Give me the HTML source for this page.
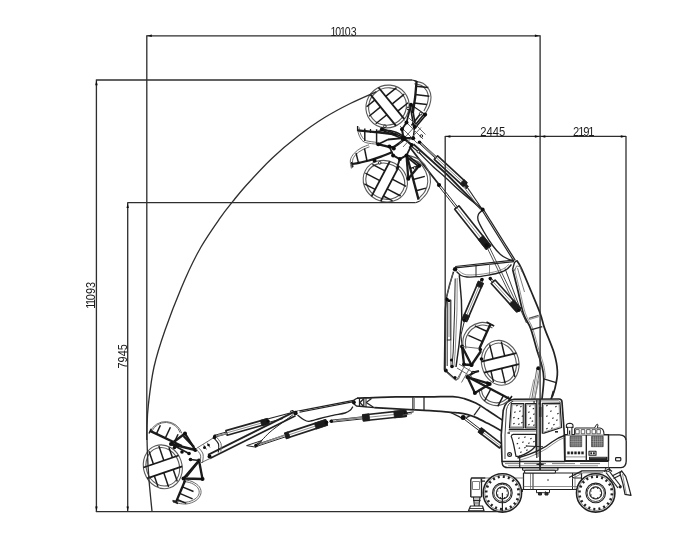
<!DOCTYPE html>
<html><head><meta charset="utf-8"><title>Working range</title>
<style>html,body{margin:0;padding:0;background:#fff}svg{display:block}</style></head>
<body>
<svg width="700" height="537" viewBox="0 0 700 537" font-family="Liberation Sans, sans-serif" stroke-linecap="butt" stroke-linejoin="round">
<defs><filter id="soft" x="0" y="0" width="700" height="537" filterUnits="userSpaceOnUse"><feGaussianBlur stdDeviation="0.38"/></filter></defs>
<rect width="700" height="537" fill="#fff"/>
<g filter="url(#soft)">
<g id="booms">
<path d="M516.8 260.5 C517.5 261.7 518.6 262.5 521 267.6 C523.4 272.7 527.8 283.3 531 291 C534.2 298.7 538 307.4 540.3 313.7 C542.6 320 542.4 322.1 544.7 328.6 C547 335.1 551.9 345.7 554 352.8 C556.1 359.9 557.2 365.6 557.4 371.5 C557.6 377.4 556.1 383.6 555 388.2 C553.9 392.8 551.7 397.2 551 399" fill="none" stroke="#222" stroke-width="1.71" />
<path d="M512.6 269.3 C513.5 272.9 516.2 283.6 518 291 C519.8 298.4 521.4 307.4 523.5 313.7 C525.6 320 528.4 322.4 530.7 328.6 C533 334.8 535.3 344.8 537.2 351 C539.1 357.2 540.8 361.2 541.9 365.9 C543 370.5 543.8 373.4 543.8 378.9 C543.8 384.4 542.3 395.6 542 399" fill="none" stroke="#222" stroke-width="1.71" />
<path d="M514.4 268.7 C515.3 272.3 518 283 519.8 290.4 C521.6 297.8 523.2 306.8 525.3 313.1 C527.4 319.4 530.2 321.8 532.5 328 C534.8 334.2 537.1 344.2 539 350.4 C540.9 356.6 542.6 360.6 543.7 365.3 C544.8 369.9 545.3 376.1 545.6 378.3" fill="none" stroke="#666" stroke-width="0.73" />
<polyline points="505,268.5 520.2,308.7 526.5,323" fill="none" stroke="#333" stroke-width="0.98" />
<polyline points="528.9,318.4 538.6,315.4" fill="none" stroke="#555" stroke-width="1.22" />
<polyline points="529.3,319.6 539,316.6" fill="none" stroke="#666" stroke-width="0.73" />
<polyline points="531.7,329.6 542.3,326.6" fill="none" stroke="#222" stroke-width="1.22" />
<polyline points="543.8,378.9 556.2,382.6" fill="none" stroke="#222" stroke-width="1.22" />
<polyline points="553.5,391 552,397" fill="none" stroke="#222" stroke-width="1.95" />
<polyline points="512.6,269.3 514.5,262.5 516.8,260.5" fill="none" stroke="#222" stroke-width="1.34" />
<polyline points="517.5,268 520,277 524.5,292" fill="none" stroke="#666" stroke-width="0.85" />
<path d="M514.5 271 L516.5 266 L520 266.5 L522 272" fill="none" stroke="#666" stroke-width="0.85" />
<polyline points="536.8,368.8 531.8,398.8" fill="none" stroke="#666" stroke-width="0.98" />
<polyline points="539.8,369.2 534.8,399.2" fill="none" stroke="#666" stroke-width="0.98" />
<polyline points="538.3,369 533.3,399" fill="none" stroke="#999" stroke-width="0.73" />
<polyline points="533.8,379.4 529.5,398.4" fill="none" stroke="#888" stroke-width="0.85" />
<polyline points="538.8,380.6 534.5,399.6" fill="none" stroke="#888" stroke-width="0.85" />
<circle cx="538.3" cy="368.2" r="2" fill="#111"/>
<polyline points="538.5,352 541,366" fill="none" stroke="#555" stroke-width="0.98" />
<polyline points="481.9,210 513.9,261.2" fill="none" stroke="#222" stroke-width="1.22" />
<polyline points="483.3,209.2 515.3,260.4" fill="none" stroke="#222" stroke-width="1.22" />
<path d="M482.2 210.5 C481.6 211.1 479.3 212.4 478.6 214 C477.9 215.6 477.1 217 478 220 C478.9 223 481.5 227.7 484 232 C486.5 236.3 490.2 242.2 493 246 C495.8 249.8 498 252.3 500.5 254.5 C503 256.7 505.8 257.9 508 259 C510.2 260.1 513 260.7 514 261" fill="none" stroke="#222" stroke-width="1.34" />
<polyline points="413.5,144.3 447,174.5 480.5,208.6" fill="none" stroke="#222" stroke-width="1.83" />
<path d="M419 152.5 C421.4 154.9 429 162.8 433.5 167 C438 171.2 441.6 174 446 178 C450.4 182 455.7 187.2 460 191 C464.3 194.8 468.4 198.1 472 201 C475.6 203.9 479.9 207.2 481.5 208.5" fill="none" stroke="#222" stroke-width="1.34" />
<polyline points="409.3,146.5 424,165.5 439,184.5" fill="none" stroke="#222" stroke-width="1.83" />
<polyline points="411,146 420,153" fill="none" stroke="#222" stroke-width="1.22" />
<polygon points="466.8,182.8 437.6,155.8 434.3,159.3 463.6,186.4" fill="none" stroke="#222" stroke-width="1.65"/>
<polyline points="465.2,184.6 436,157.5" fill="none" stroke="#666" stroke-width="0.73" />
<polygon points="467.2,182.5 464,179.5 460,183.8 463.2,186.7" fill="#1a1a1a" stroke="#222" stroke-width="0.73"/>
<polyline points="436.6,156.9 420.1,141.6" fill="none" stroke="#222" stroke-width="0.98" />
<polyline points="435.3,158.2 418.9,143" fill="none" stroke="#222" stroke-width="0.98" />
<polyline points="436,157.5 419.5,142.3" fill="none" stroke="#888" stroke-width="1.43" />
<circle cx="465.2" cy="184.6" r="1.8" fill="#111"/>
<circle cx="419.5" cy="142.3" r="1.8" fill="#111"/>
<polyline points="466,185.5 482,209" fill="none" stroke="#222" stroke-width="1.1" />
<polyline points="463.6,186.5 480.3,209.5" fill="none" stroke="#666" stroke-width="0.85" />
<path d="M464 181.5 L468.5 186.5 L466 189 Z" fill="#222" stroke="#222" stroke-width="0.73" />
<polygon points="454.7,209.2 486.4,249.2 490.6,245.8 458.9,205.8" fill="none" stroke="#222" stroke-width="1.65"/>
<polyline points="456.8,207.5 488.5,247.5" fill="none" stroke="#666" stroke-width="0.73" />
<polygon points="478.1,239.5 486,249.5 491,245.5 483.1,235.5" fill="#1a1a1a" stroke="#222" stroke-width="0.73"/>
<polyline points="438.3,185.6 456.1,208.1" fill="none" stroke="#222" stroke-width="0.98" />
<polyline points="439.7,184.4 457.5,206.9" fill="none" stroke="#222" stroke-width="0.98" />
<circle cx="439" cy="185" r="2.1" fill="#111"/>
<circle cx="486.8" cy="245.2" r="2.3" fill="#111"/>
<polyline points="487.3,248 516.8,309" fill="none" stroke="#222" stroke-width="0.79" />
<polyline points="489.3,247 518.8,308" fill="none" stroke="#222" stroke-width="0.79" />
<circle cx="482.6" cy="209.6" r="2" fill="#111"/>
<polyline points="455.4,267.9 513.9,261.6" fill="none" stroke="#222" stroke-width="1.22" />
<polyline points="455.2,266.5 513.7,260.2" fill="none" stroke="#222" stroke-width="1.22" />
<path d="M456.5 271.5 C457.2 272.2 459.2 274.6 461 275.5 C462.8 276.4 464.2 276.8 467 277 C469.8 277.2 474.3 277 478 276.7 C481.7 276.4 485.3 275.7 489 275 C492.7 274.3 497.1 273.4 500 272.5 C502.9 271.6 504.6 270.8 506.5 269.5 C508.4 268.2 510.7 265.3 511.5 264.5" fill="none" stroke="#222" stroke-width="1.34" />
<path d="M458.5 270.5 C459.2 271 461.4 273 463 273.7 C464.6 274.4 465.5 274.8 468 274.9 C470.5 275 474.5 274.9 478 274.6 C481.5 274.3 485.5 273.7 489 273 C492.5 272.3 496.3 271.5 499 270.6 C501.7 269.7 503.3 268.9 505 267.8 C506.7 266.7 508.3 264.8 509 264.2" fill="none" stroke="#666" stroke-width="0.73" />
<polyline points="476,265 476,276.5" fill="none" stroke="#222" stroke-width="0.98" />
<polyline points="489.5,263.7 489.5,274.8" fill="none" stroke="#666" stroke-width="0.73" />
<circle cx="455.1" cy="269.2" r="2.2" fill="#111"/>
<polyline points="453.5,271.8 449.5,285 446.6,297 445.2,310 444.4,369.5 456.6,380.3" fill="none" stroke="#222" stroke-width="1.46" />
<polyline points="459.3,275.1 461.4,300 461.8,318 459,345 456,367" fill="none" stroke="#222" stroke-width="1.46" />
<polyline points="455.2,278.5 454.6,310 453.2,352 452,366" fill="none" stroke="#222" stroke-width="0.98" />
<polyline points="457.2,278 457,310 455.2,352 453.8,367" fill="none" stroke="#666" stroke-width="0.73" />
<rect x="447.2" y="300" width="3.6" height="40" rx="0" fill="none" stroke="#222" stroke-width="1.1"/>
<polyline points="449,303 449,337" fill="none" stroke="#666" stroke-width="0.73" />
<polyline points="447.2,340 447.2,366" fill="none" stroke="#222" stroke-width="0.98" />
<polyline points="450.8,340 450.8,366" fill="none" stroke="#666" stroke-width="0.85" />
<circle cx="446.8" cy="299.4" r="1.9" fill="#111"/>
<circle cx="449" cy="301" r="1.3" fill="#111"/>
<polyline points="446.5,297 453,273" fill="none" stroke="#666" stroke-width="0.85" />
<circle cx="445.8" cy="370.5" r="1.9" fill="#111"/>
<circle cx="452" cy="366.5" r="1.8" fill="#111"/>
<circle cx="455" cy="377.5" r="1.6" fill="#111"/>
<circle cx="451.5" cy="360" r="1.6" fill="#111"/>
<polyline points="446,372 455,380 458.5,379 462,371" fill="none" stroke="#666" stroke-width="0.98" />
<polygon points="478.4,281.9 462.3,319.6 466.7,321.4 482.8,283.8" fill="none" stroke="#222" stroke-width="1.65"/>
<polyline points="480.6,282.9 464.5,320.5" fill="none" stroke="#666" stroke-width="0.73" />
<polygon points="478.3,280.9 476.2,285.8 481.5,288.1 483.6,283.2" fill="#1a1a1a" stroke="#222" stroke-width="0.73"/>
<polygon points="464.3,313.6 462.4,318.1 467.7,320.4 469.6,315.9" fill="#1a1a1a" stroke="#222" stroke-width="0.73"/>
<polyline points="481.2,279.2 479.8,282.5" fill="none" stroke="#222" stroke-width="0.98" />
<polyline points="482.8,280 481.4,283.2" fill="none" stroke="#222" stroke-width="0.98" />
<circle cx="482" cy="279.6" r="1.8" fill="#111"/>
<circle cx="464.5" cy="320.5" r="1.8" fill="#111"/>
<polygon points="491.2,283.5 516.9,311.9 520.7,308.5 495.1,280" fill="none" stroke="#222" stroke-width="1.65"/>
<polyline points="493.1,281.8 518.8,310.2" fill="none" stroke="#666" stroke-width="0.73" />
<polygon points="509.1,304.1 515.9,311.6 520.5,307.5 513.7,299.9" fill="#1a1a1a" stroke="#222" stroke-width="0.73"/>
<polyline points="489.6,279.2 492.5,282.4" fill="none" stroke="#222" stroke-width="0.98" />
<polyline points="491,278 493.8,281.2" fill="none" stroke="#222" stroke-width="0.98" />
<circle cx="490.3" cy="278.6" r="1.8" fill="#111"/>
<circle cx="518.8" cy="310.2" r="1.8" fill="#111"/>
<polyline points="464.5,320.5 461,335 462,346" fill="none" stroke="#222" stroke-width="0.98" />
<path d="M357 398.2 C360.8 398.1 372 397.5 380 397.3 C388 397.1 396.7 396.9 405 396.8 C413.3 396.7 422 396.9 430 396.9 C438 396.9 447.2 396.3 452.9 396.6 C458.6 396.9 460.5 397.5 464.3 398.6 C468.1 399.7 471.9 401.2 475.7 403.1 C479.5 405 482.3 406.9 487.1 410 C491.9 413.1 501.4 419.5 504.3 421.4" fill="none" stroke="#222" stroke-width="1.71" />
<path d="M374.2 407.6 C379.3 407.9 395.7 408.8 405 409.3 C414.3 409.8 422.4 410.1 430 410.6 C437.6 411.1 445.8 411.9 450.6 412.3 C455.4 412.7 455.8 412.5 458.6 412.9 C461.5 413.3 464.9 413.9 467.7 414.6 C470.5 415.4 472.5 416 475.7 417.4 C478.9 418.8 482.3 420.6 487.1 423.1 C491.9 425.6 501.4 430.8 504.3 432.3" fill="none" stroke="#222" stroke-width="1.71" />
<polyline points="412.9,397.3 412.9,409.6" fill="none" stroke="#222" stroke-width="1.22" />
<polyline points="414.5,397.3 414.5,409.6" fill="none" stroke="#666" stroke-width="0.73" />
<polyline points="424,397 424,410.2" fill="none" stroke="#222" stroke-width="1.22" />
<polyline points="480.3,406.6 474,415.3" fill="none" stroke="#222" stroke-width="1.22" />
<polyline points="357,398.2 354,400 353.4,403.5 356.5,406 374.2,407.6" fill="none" stroke="#222" stroke-width="1.34" />
<polyline points="359.5,398.4 359.5,406.6" fill="none" stroke="#222" stroke-width="1.22" />
<polyline points="363.8,398.2 363.8,407" fill="none" stroke="#222" stroke-width="1.22" />
<polyline points="366,398.2 366,407.2" fill="none" stroke="#222" stroke-width="0.98" />
<polyline points="360,402.5 363.5,399" fill="none" stroke="#222" stroke-width="1.22" />
<polyline points="360,402.5 363.5,406.5" fill="none" stroke="#222" stroke-width="1.22" />
<polyline points="366.2,402.5 371.5,398.5" fill="none" stroke="#222" stroke-width="1.22" />
<polyline points="366.2,402.5 373.5,407.3" fill="none" stroke="#222" stroke-width="1.22" />
<circle cx="353.8" cy="402.3" r="2" fill="#111"/>
<polyline points="450.6,412.5 459.7,416.9 463.1,419" fill="none" stroke="#222" stroke-width="1.22" />
<polyline points="466.3,417.6 470.5,415.4" fill="none" stroke="#222" stroke-width="1.22" />
<polygon points="502.4,444.4 481.3,428.2 478.5,431.9 499.6,448" fill="none" stroke="#222" stroke-width="1.65"/>
<polyline points="501,446.2 479.9,430.1" fill="none" stroke="#666" stroke-width="0.73" />
<polygon points="485.1,430.5 481.6,427.8 478.2,432.3 481.7,434.9" fill="#1a1a1a" stroke="#222" stroke-width="0.73"/>
<polyline points="480.5,429.3 465.6,417.8" fill="none" stroke="#222" stroke-width="0.98" />
<polyline points="479.3,430.8 464.4,419.4" fill="none" stroke="#222" stroke-width="0.98" />
<circle cx="463.2" cy="417.4" r="2.5" fill="#111"/>
<polyline points="353.5,400.3 295.5,411.6" fill="none" stroke="#222" stroke-width="1.22" />
<polyline points="353.7,401.7 295.7,413" fill="none" stroke="#222" stroke-width="1.22" />
<path d="M352.8 406.6 C352.4 407.2 351.8 408.9 350.5 410 C349.2 411.1 347.9 412.1 345 413 C342.1 413.9 337.2 414.5 333 415.4 C328.8 416.3 324 417.5 320 418.5 C316 419.5 311.8 421.1 309 421.3 C306.2 421.5 305.4 420.6 303.5 419.5 C301.6 418.4 298.5 415.8 297.5 415" fill="none" stroke="#222" stroke-width="1.34" />
<circle cx="295.5" cy="413" r="2.3" fill="#111"/>
<circle cx="298.5" cy="412" r="1.2" fill="#fff"/>
<polyline points="295.5,413 292.5,410.5 290,411.5" fill="none" stroke="#222" stroke-width="1.1" />
<polygon points="405.7,410.4 362.7,415 363.4,420.7 406.3,416.2" fill="none" stroke="#222" stroke-width="1.65"/>
<polyline points="406,413.3 363,417.8" fill="none" stroke="#666" stroke-width="0.73" />
<polygon points="405.6,409.9 393.7,411.2 394.4,417.9 406.4,416.7" fill="#1a1a1a" stroke="#222" stroke-width="0.73"/>
<polygon points="369,413.8 362.7,414.5 363.4,421.2 369.8,420.6" fill="#1a1a1a" stroke="#222" stroke-width="0.73"/>
<polyline points="362.9,416.8 331.2,420.2" fill="none" stroke="#222" stroke-width="0.98" />
<polyline points="363.2,418.8 331.4,422.2" fill="none" stroke="#222" stroke-width="0.98" />
<circle cx="406" cy="413.3" r="1.8" fill="#111"/>
<circle cx="331.3" cy="421.2" r="1.8" fill="#111"/>
<polyline points="405,413.4 413.7,411.7" fill="none" stroke="#222" stroke-width="1.1" />
<polyline points="402.6,415.2 412,413.6" fill="none" stroke="#666" stroke-width="0.85" />
<line x1="336" y1="420.6" x2="362" y2="417.4" stroke="#888" stroke-width="1.6"/>
<path d="M256 444.7 C257 443.9 259.7 442.1 262 440 C264.3 437.9 266.6 434.9 270 432 C273.4 429.1 278.8 425.3 282.6 422.4 C286.4 419.5 291.3 416 293 414.7" fill="none" stroke="#222" stroke-width="0.98" />
<polyline points="209.8,458.5 295.5,415.7" fill="none" stroke="#222" stroke-width="1.77" />
<polyline points="208,454.9 293.7,412.1" fill="none" stroke="#222" stroke-width="1.77" />
<circle cx="209.5" cy="456.5" r="2" fill="#111"/>
<polygon points="267.3,418.9 225.9,430.6 227.2,435.2 268.7,423.5" fill="none" stroke="#222" stroke-width="1.65"/>
<polyline points="268,421.2 226.6,432.9" fill="none" stroke="#666" stroke-width="0.73" />
<polygon points="267.2,418.4 260.3,420.4 261.9,425.9 268.8,424" fill="#1a1a1a" stroke="#222" stroke-width="0.73"/>
<polyline points="226.3,432 214.7,435.3" fill="none" stroke="#222" stroke-width="0.98" />
<polyline points="226.8,433.8 215.1,437.1" fill="none" stroke="#222" stroke-width="0.98" />
<circle cx="268" cy="421.2" r="1.8" fill="#111"/>
<circle cx="214.9" cy="436.2" r="1.8" fill="#111"/>
<line x1="216" y1="436" x2="227" y2="433.4" stroke="#888" stroke-width="1.5"/>
<polyline points="267.5,419 293,412.2" fill="none" stroke="#222" stroke-width="1.1" />
<polyline points="269,422.3 283,418.5" fill="none" stroke="#222" stroke-width="0.98" />
<polygon points="325.7,419.9 284.8,433.4 286.4,438.3 327.3,424.9" fill="none" stroke="#222" stroke-width="1.65"/>
<polyline points="326.5,422.4 285.6,435.9" fill="none" stroke="#666" stroke-width="0.73" />
<polygon points="325.5,419.5 314.3,423.2 316.2,429.1 327.5,425.3" fill="#1a1a1a" stroke="#222" stroke-width="0.73"/>
<polygon points="288.2,431.8 284.6,432.9 286.6,438.8 290.1,437.6" fill="#1a1a1a" stroke="#222" stroke-width="0.73"/>
<polyline points="285.3,435 255.7,444.7" fill="none" stroke="#222" stroke-width="0.98" />
<polyline points="285.9,436.7 256.3,446.5" fill="none" stroke="#222" stroke-width="0.98" />
<circle cx="326.5" cy="422.4" r="1.8" fill="#111"/>
<circle cx="256" cy="445.6" r="1.8" fill="#111"/>
<line x1="259" y1="444.6" x2="285" y2="435" stroke="#888" stroke-width="1.6"/>
<polygon points="246.6,445.6 256,447.2 262,440.5" fill="none" stroke="#222" stroke-width="0.98"/>
</g>
<g id="under">
<rect x="523.5" y="473" width="58" height="16.5" rx="0" fill="#fff" stroke="#222" stroke-width="1.22"/>
<polyline points="533,473 533,489.5" fill="none" stroke="#222" stroke-width="0.98" />
<polyline points="530.5,473 530.5,489.5" fill="none" stroke="#666" stroke-width="0.73" />
<polyline points="572.5,473 572.5,489.5" fill="none" stroke="#222" stroke-width="0.98" />
<polyline points="575,473 575,489.5" fill="none" stroke="#666" stroke-width="0.73" />
<polyline points="523.5,486.5 581.5,486.5" fill="none" stroke="#666" stroke-width="0.73" />
<circle cx="548" cy="480" r="0.8" fill="#222"/>
<rect x="536.5" y="489.5" width="13" height="3.2" rx="0" fill="#fff" stroke="#222" stroke-width="0.98"/>
<rect x="538.5" y="492.7" width="3" height="2.3" rx="0" fill="#333" stroke="#222" stroke-width="0.98"/>
<rect x="545" y="492.7" width="3" height="2.3" rx="0" fill="#333" stroke="#222" stroke-width="0.98"/>
<circle cx="545.5" cy="492" r="0.7" fill="#222"/>
<rect x="522.5" y="467.6" width="35.5" height="2.6" rx="1" fill="#fff" stroke="#222" stroke-width="1.1"/>
<rect x="524.5" y="470.2" width="31" height="2.8" rx="1" fill="#fff" stroke="#222" stroke-width="1.1"/>
<polyline points="485.5,478 471.5,478 470.8,480 470.8,497" fill="none" stroke="#222" stroke-width="1.34" />
<polyline points="485,481.2 481.5,481.2 481.5,497" fill="none" stroke="#222" stroke-width="1.22" />
<polyline points="470.8,497 481.5,497" fill="none" stroke="#222" stroke-width="1.22" />
<rect x="472.5" y="481.5" width="7" height="8" rx="0" fill="none" stroke="#666" stroke-width="0.85"/>
<rect x="480.6" y="478.5" width="1.6" height="4" fill="#222"/>
<polyline points="473.5,497 474.5,506" fill="none" stroke="#222" stroke-width="1.22" />
<polyline points="480,497 479,506" fill="none" stroke="#222" stroke-width="1.22" />
<polyline points="476,497 476,506" fill="none" stroke="#666" stroke-width="0.73" />
<polyline points="478,497 478,506" fill="none" stroke="#666" stroke-width="0.73" />
<polyline points="473,500.5 480.5,500.5" fill="none" stroke="#222" stroke-width="0.98" />
<polyline points="473.5,503 480,503" fill="none" stroke="#666" stroke-width="0.85" />
<polygon points="470.5,506 482.5,506 484,510.8 468.5,510.8" fill="#fff" stroke="#222" stroke-width="1.22"/>
<polyline points="470,508.5 483,508.5" fill="none" stroke="#222" stroke-width="0.85" />
<polyline points="485.5,478 523.5,478" fill="none" stroke="#666" stroke-width="0.85" />
<polyline points="520.8,489.5 523.5,489.5" fill="none" stroke="#222" stroke-width="1.1" />
<rect x="520.6" y="489" width="2.4" height="3" fill="#333"/>
<polyline points="581.5,478 574,478 572.5,476.5" fill="none" stroke="#222" stroke-width="0.98" />
<polyline points="569,477.5 582,470.8 605.5,470.8" fill="none" stroke="#222" stroke-width="1.34" />
<polyline points="572,478.8 583,472.8 603,472.8" fill="none" stroke="#666" stroke-width="0.85" />
<polyline points="581.5,489.5 576,489.5" fill="none" stroke="#222" stroke-width="0.98" />
<polyline points="604,471.5 609,469 612,471.5" fill="none" stroke="#222" stroke-width="1.22" />
<circle cx="607.5" cy="469.5" r="2.2" fill="none" stroke="#222" stroke-width="0.98"/>
<polyline points="606,472.5 618,488" fill="none" stroke="#222" stroke-width="1.22" />
<polyline points="609.5,471.5 621,486.5" fill="none" stroke="#222" stroke-width="1.22" />
<polyline points="612,476 620.5,471.8" fill="none" stroke="#222" stroke-width="1.22" />
<polyline points="613.5,478.5 621,474.8" fill="none" stroke="#222" stroke-width="1.22" />
<circle cx="620.2" cy="486.8" r="1.6" fill="#222"/>
<circle cx="620.8" cy="472.5" r="1.2" fill="#222"/>
<polygon points="620,473.5 621.6,470.8 625.7,476.4 627.9,483.6 631,495.3 625,494.3 622.9,483.6" fill="#fff" stroke="#222" stroke-width="1.22"/>
<polyline points="622.5,474 626.3,494" fill="none" stroke="#666" stroke-width="0.73" />
<circle cx="502.4" cy="492.9" r="19.2" fill="#fff" stroke="#222" stroke-width="1.59"/>
<circle cx="502.4" cy="492.9" r="17.6" fill="none" stroke="#666" stroke-width="0.73"/>
<rect x="517.3" y="493.3" width="2.6" height="2.0" fill="#222" transform="rotate(5 518.6 494.3)"/>
<rect x="516.1" y="498.3" width="2.6" height="2.0" fill="#222" transform="rotate(23 517.4 499.3)"/>
<rect x="513.4" y="502.6" width="2.6" height="2.0" fill="#222" transform="rotate(41 514.7 503.6)"/>
<rect x="509.5" y="505.9" width="2.6" height="2.0" fill="#222" transform="rotate(59 510.8 506.9)"/>
<rect x="504.8" y="507.8" width="2.6" height="2.0" fill="#222" transform="rotate(77 506.1 508.8)"/>
<rect x="499.7" y="508.1" width="2.6" height="2.0" fill="#222" transform="rotate(95 501 509.1)"/>
<rect x="494.7" y="506.9" width="2.6" height="2.0" fill="#222" transform="rotate(113 496 507.9)"/>
<rect x="490.4" y="504.2" width="2.6" height="2.0" fill="#222" transform="rotate(131 491.7 505.2)"/>
<rect x="487.1" y="500.3" width="2.6" height="2.0" fill="#222" transform="rotate(149 488.4 501.3)"/>
<rect x="485.2" y="495.6" width="2.6" height="2.0" fill="#222" transform="rotate(167 486.5 496.6)"/>
<rect x="484.9" y="490.5" width="2.6" height="2.0" fill="#222" transform="rotate(185 486.2 491.5)"/>
<rect x="486.1" y="485.5" width="2.6" height="2.0" fill="#222" transform="rotate(203 487.4 486.5)"/>
<rect x="488.8" y="481.2" width="2.6" height="2.0" fill="#222" transform="rotate(221 490.1 482.2)"/>
<rect x="492.7" y="477.9" width="2.6" height="2.0" fill="#222" transform="rotate(239 494 478.9)"/>
<rect x="497.4" y="476" width="2.6" height="2.0" fill="#222" transform="rotate(257 498.7 477)"/>
<rect x="502.5" y="475.7" width="2.6" height="2.0" fill="#222" transform="rotate(275 503.8 476.7)"/>
<rect x="507.5" y="476.9" width="2.6" height="2.0" fill="#222" transform="rotate(293 508.8 477.9)"/>
<rect x="511.8" y="479.6" width="2.6" height="2.0" fill="#222" transform="rotate(311 513.1 480.6)"/>
<rect x="515.1" y="483.5" width="2.6" height="2.0" fill="#222" transform="rotate(329 516.4 484.5)"/>
<rect x="517" y="488.2" width="2.6" height="2.0" fill="#222" transform="rotate(347 518.3 489.2)"/>
<circle cx="502.4" cy="492.9" r="9.8" fill="none" stroke="#222" stroke-width="1.1"/>
<circle cx="502.4" cy="492.9" r="8.6" fill="none" stroke="#222" stroke-width="0.85"/>
<circle cx="502.4" cy="492.9" r="6" fill="none" stroke="#222" stroke-width="1.1"/>
<circle cx="507" cy="494.8" r="0.6" fill="#222"/>
<circle cx="504.4" cy="497.5" r="0.6" fill="#222"/>
<circle cx="500.5" cy="497.5" r="0.6" fill="#222"/>
<circle cx="497.8" cy="494.9" r="0.6" fill="#222"/>
<circle cx="497.8" cy="491" r="0.6" fill="#222"/>
<circle cx="500.4" cy="488.3" r="0.6" fill="#222"/>
<circle cx="504.3" cy="488.3" r="0.6" fill="#222"/>
<circle cx="507" cy="490.9" r="0.6" fill="#222"/>
<circle cx="595.7" cy="492.9" r="19.2" fill="#fff" stroke="#222" stroke-width="1.59"/>
<circle cx="595.7" cy="492.9" r="17.6" fill="none" stroke="#666" stroke-width="0.73"/>
<rect x="610.6" y="493.3" width="2.6" height="2.0" fill="#222" transform="rotate(5 611.9 494.3)"/>
<rect x="609.4" y="498.3" width="2.6" height="2.0" fill="#222" transform="rotate(23 610.7 499.3)"/>
<rect x="606.7" y="502.6" width="2.6" height="2.0" fill="#222" transform="rotate(41 608 503.6)"/>
<rect x="602.8" y="505.9" width="2.6" height="2.0" fill="#222" transform="rotate(59 604.1 506.9)"/>
<rect x="598.1" y="507.8" width="2.6" height="2.0" fill="#222" transform="rotate(77 599.4 508.8)"/>
<rect x="593" y="508.1" width="2.6" height="2.0" fill="#222" transform="rotate(95 594.3 509.1)"/>
<rect x="588" y="506.9" width="2.6" height="2.0" fill="#222" transform="rotate(113 589.3 507.9)"/>
<rect x="583.7" y="504.2" width="2.6" height="2.0" fill="#222" transform="rotate(131 585 505.2)"/>
<rect x="580.4" y="500.3" width="2.6" height="2.0" fill="#222" transform="rotate(149 581.7 501.3)"/>
<rect x="578.5" y="495.6" width="2.6" height="2.0" fill="#222" transform="rotate(167 579.8 496.6)"/>
<rect x="578.2" y="490.5" width="2.6" height="2.0" fill="#222" transform="rotate(185 579.5 491.5)"/>
<rect x="579.4" y="485.5" width="2.6" height="2.0" fill="#222" transform="rotate(203 580.7 486.5)"/>
<rect x="582.1" y="481.2" width="2.6" height="2.0" fill="#222" transform="rotate(221 583.4 482.2)"/>
<rect x="586" y="477.9" width="2.6" height="2.0" fill="#222" transform="rotate(239 587.3 478.9)"/>
<rect x="590.7" y="476" width="2.6" height="2.0" fill="#222" transform="rotate(257 592 477)"/>
<rect x="595.8" y="475.7" width="2.6" height="2.0" fill="#222" transform="rotate(275 597.1 476.7)"/>
<rect x="600.8" y="476.9" width="2.6" height="2.0" fill="#222" transform="rotate(293 602.1 477.9)"/>
<rect x="605.1" y="479.6" width="2.6" height="2.0" fill="#222" transform="rotate(311 606.4 480.6)"/>
<rect x="608.4" y="483.5" width="2.6" height="2.0" fill="#222" transform="rotate(329 609.7 484.5)"/>
<rect x="610.3" y="488.2" width="2.6" height="2.0" fill="#222" transform="rotate(347 611.6 489.2)"/>
<circle cx="595.7" cy="492.9" r="9.8" fill="none" stroke="#222" stroke-width="1.1"/>
<circle cx="595.7" cy="492.9" r="8.6" fill="none" stroke="#222" stroke-width="0.85"/>
<circle cx="595.7" cy="492.9" r="6" fill="none" stroke="#222" stroke-width="1.1"/>
<circle cx="600.3" cy="494.8" r="0.6" fill="#222"/>
<circle cx="597.7" cy="497.5" r="0.6" fill="#222"/>
<circle cx="593.8" cy="497.5" r="0.6" fill="#222"/>
<circle cx="591.1" cy="494.9" r="0.6" fill="#222"/>
<circle cx="591.1" cy="491" r="0.6" fill="#222"/>
<circle cx="593.7" cy="488.3" r="0.6" fill="#222"/>
<circle cx="597.6" cy="488.3" r="0.6" fill="#222"/>
<circle cx="600.3" cy="490.9" r="0.6" fill="#222"/>
<polyline points="502.4,492.9 502.4,511.5" fill="none" stroke="#222" stroke-width="1.22" />
</g>
<g id="upper">
<path d="M502 461.5 L502.3 464 Q503 467.6 508 467.6 L621 467.6 Q626.2 467.2 626.2 461 L626.2 441 Q626 435 619.5 434.8 L565 434.8" fill="#fff" stroke="#222" stroke-width="1.34" />
<polyline points="502,461.5 608.5,461.5" fill="none" stroke="#222" stroke-width="1.22" />
<polyline points="505,463.6 520,463.6" fill="none" stroke="#666" stroke-width="0.85" />
<polyline points="524,463.6 546,463.6" fill="none" stroke="#666" stroke-width="0.85" />
<polyline points="552,463.6 575,463.6" fill="none" stroke="#666" stroke-width="0.85" />
<polyline points="580,463.6 600,463.6" fill="none" stroke="#666" stroke-width="0.85" />
<polyline points="508,465.8 598,465.8" fill="none" stroke="#666" stroke-width="0.73" />
<polyline points="608.5,461.5 608.5,467.6" fill="none" stroke="#666" stroke-width="0.73" />
<rect x="564.8" y="434.8" width="43.7" height="26" rx="0" fill="#fff" stroke="#222" stroke-width="1.46"/>
<polyline points="586.3,434.8 586.3,460.8" fill="none" stroke="#222" stroke-width="1.34" />
<rect x="570" y="436.3" width="11.7" height="10.4" rx="0" fill="#4a4a4a" stroke="#333" stroke-width="0.61"/>
<polyline points="572,436.3 572,446.7" fill="none" stroke="#ccc" stroke-width="0.43" />
<polyline points="573.9,436.3 573.9,446.7" fill="none" stroke="#ccc" stroke-width="0.43" />
<polyline points="575.9,436.3 575.9,446.7" fill="none" stroke="#ccc" stroke-width="0.43" />
<polyline points="577.8,436.3 577.8,446.7" fill="none" stroke="#ccc" stroke-width="0.43" />
<polyline points="579.8,436.3 579.8,446.7" fill="none" stroke="#ccc" stroke-width="0.43" />
<polyline points="570,438 581.7,438" fill="none" stroke="#ccc" stroke-width="0.43" />
<polyline points="570,439.8 581.7,439.8" fill="none" stroke="#ccc" stroke-width="0.43" />
<polyline points="570,441.5 581.7,441.5" fill="none" stroke="#ccc" stroke-width="0.43" />
<polyline points="570,443.2 581.7,443.2" fill="none" stroke="#ccc" stroke-width="0.43" />
<polyline points="570,445 581.7,445" fill="none" stroke="#ccc" stroke-width="0.43" />
<rect x="591.5" y="436.3" width="11.7" height="10.4" rx="0" fill="#4a4a4a" stroke="#333" stroke-width="0.61"/>
<polyline points="593.5,436.3 593.5,446.7" fill="none" stroke="#ccc" stroke-width="0.43" />
<polyline points="595.4,436.3 595.4,446.7" fill="none" stroke="#ccc" stroke-width="0.43" />
<polyline points="597.4,436.3 597.4,446.7" fill="none" stroke="#ccc" stroke-width="0.43" />
<polyline points="599.3,436.3 599.3,446.7" fill="none" stroke="#ccc" stroke-width="0.43" />
<polyline points="601.2,436.3 601.2,446.7" fill="none" stroke="#ccc" stroke-width="0.43" />
<polyline points="591.5,438 603.2,438" fill="none" stroke="#ccc" stroke-width="0.43" />
<polyline points="591.5,439.8 603.2,439.8" fill="none" stroke="#ccc" stroke-width="0.43" />
<polyline points="591.5,441.5 603.2,441.5" fill="none" stroke="#ccc" stroke-width="0.43" />
<polyline points="591.5,443.2 603.2,443.2" fill="none" stroke="#ccc" stroke-width="0.43" />
<polyline points="591.5,445 603.2,445" fill="none" stroke="#ccc" stroke-width="0.43" />
<rect x="567.3" y="451.5" width="2.4" height="2.8" fill="#222"/>
<rect x="570.8" y="451.5" width="2.4" height="2.8" fill="#222"/>
<rect x="574.3" y="451.5" width="2.4" height="2.8" fill="#222"/>
<rect x="577.8" y="451.5" width="2.4" height="2.8" fill="#222"/>
<rect x="581.3" y="451.5" width="2.4" height="2.8" fill="#222"/>
<rect x="589" y="451.3" width="7" height="4" rx="0" fill="#fff" stroke="#222" stroke-width="1.1"/>
<rect x="590.3" y="452.3" width="1.8" height="2" fill="#222"/><rect x="593" y="452.3" width="1.8" height="2" fill="#222"/>
<rect x="589" y="456.8" width="18.5" height="4" fill="#222"/>
<polyline points="590,457.8 606,457.8" fill="none" stroke="#aaa" stroke-width="0.49" />
<polyline points="565,456.9 586,456.9" fill="none" stroke="#666" stroke-width="0.73" />
<polyline points="556.5,459.5 564.5,451" fill="none" stroke="#666" stroke-width="0.85" />
<polyline points="558.5,460.5 564.8,453.8" fill="none" stroke="#666" stroke-width="0.85" />
<polyline points="555,461 564.5,448.5" fill="none" stroke="#666" stroke-width="0.85" />
<rect x="615.6" y="457.6" width="5.2" height="3.3" rx="0.8" fill="#fff" stroke="#222" stroke-width="1.22"/>
<path d="M574.6 434.8 L574.6 429.5 Q574.6 428 576 428 L600 428 Q604 428.5 604 434.8" fill="#fff" stroke="#222" stroke-width="1.1" />
<rect x="575.6" y="429.6" width="3.6" height="4.2" rx="0" fill="#fff" stroke="#444" stroke-width="0.85"/>
<rect x="581.2" y="429.6" width="3.6" height="4.2" rx="0" fill="#fff" stroke="#444" stroke-width="0.85"/>
<rect x="586.6" y="429.6" width="3.6" height="4.2" rx="0" fill="#fff" stroke="#444" stroke-width="0.85"/>
<rect x="592" y="429.6" width="3.6" height="4.2" rx="0" fill="#fff" stroke="#444" stroke-width="0.85"/>
<rect x="596.8" y="429.6" width="3.6" height="4.2" rx="0" fill="#fff" stroke="#444" stroke-width="0.85"/>
<path d="M594.5 428 L596.5 424.6 Q597.5 423.6 598 425 L597.3 428" fill="#fff" stroke="#222" stroke-width="0.98" />
<path d="M567.6 434.8 L567.6 427.4 L566.4 427.4 L566.4 425.2 Q566.6 423.4 569.8 423.2 Q572.8 423.4 573 425.2 L573 427.4 L571.9 427.4 L571.9 434.8" fill="#fff" stroke="#222" stroke-width="1.1" />
<polyline points="567,427.4 572.5,427.4" fill="none" stroke="#222" stroke-width="0.85" />
<rect x="569" y="430.5" width="1.2" height="4" fill="#222"/>
<path d="M514 399.3 L559 399 Q561.8 399 562 402 L564.2 432 L564.8 461.5 L502 461.5 L501.2 435 L503.2 410.5 Q505.5 400 514 399.3 Z" fill="#fff" stroke="#222" stroke-width="1.65" />
<path d="M511 403.5 Q511.5 401 514 401 L558.5 400.8 Q560.2 400.8 560.4 403" fill="none" stroke="#666" stroke-width="0.85" />
<path d="M513 401.2 Q508 402.5 506.4 410 L505 435 L505 459" fill="none" stroke="#444" stroke-width="0.98" />
<polygon points="511.3,403.6 523.8,403.6 523.8,428 509.5,428" fill="#fff" stroke="#222" stroke-width="1.22"/>
<polygon points="512.3,404.8 522.8,404.8 522.8,426.8 510.7,426.8" fill="none" stroke="#666" stroke-width="0.61"/>
<rect x="525.6" y="403.6" width="10.4" height="24.4" rx="0" fill="#fff" stroke="#222" stroke-width="1.22"/>
<rect x="526.6" y="404.8" width="8.4" height="22" rx="0" fill="none" stroke="#666" stroke-width="0.61"/>
<polygon points="542.3,403.4 560,403.2 561.6,427.5 544,433.2 542.3,433.2" fill="#fff" stroke="#222" stroke-width="1.22"/>
<polygon points="543.5,404.6 559,404.4 560.3,426.7 544.5,431.8 543.5,431.8" fill="none" stroke="#666" stroke-width="0.61"/>
<polyline points="508.8,429.6 536.4,429.6" fill="none" stroke="#222" stroke-width="1.22" />
<polyline points="508.5,431.2 536.4,431.2" fill="none" stroke="#666" stroke-width="0.73" />
<path d="M513.2 434.3 L535.8 434.3 L535.8 446 Q530 453 519 456.3 L516 456.3 Q514.8 450 513.5 444 Q512 438 511.2 436.5 Q511.5 434.3 513.2 434.3 Z" fill="#fff" stroke="#222" stroke-width="1.22" />
<polyline points="536.8,400 536.8,458" fill="none" stroke="#222" stroke-width="1.22" />
<polyline points="538.3,400 538.3,457" fill="none" stroke="#666" stroke-width="0.73" />
<path d="M517.5 458 Q540 452 552 442 Q558 437.5 564.5 435.5" fill="none" stroke="#222" stroke-width="1.34" />
<path d="M519 460.5 Q541 454 553 444 Q559 439.5 564.5 437.5" fill="none" stroke="#666" stroke-width="0.73" />
<circle cx="509.6" cy="454.5" r="1.9" fill="#fff" stroke="#222" stroke-width="1.22"/>
<circle cx="509.6" cy="454.5" r="0.8" fill="#333"/>
<polyline points="526.5,446 543,446.8" fill="none" stroke="#222" stroke-width="1.1" />
<circle cx="526.5" cy="446" r="0.8" fill="#222"/>
<rect x="555" y="431" width="3" height="1.6" fill="#222"/>
<rect x="507.5" y="432.3" width="2.5" height="1.4" fill="#222"/>
<rect x="516" y="405.5" width="1.5" height="1.1" fill="#222" transform="rotate(-25 516 405.5)"/>
<rect x="520" y="406.5" width="1.5" height="1.1" fill="#222" transform="rotate(-25 520 406.5)"/>
<rect x="514" y="412" width="1.5" height="1.1" fill="#222" transform="rotate(-25 514 412)"/>
<rect x="519" y="411" width="1.5" height="1.1" fill="#222" transform="rotate(-25 519 411)"/>
<rect x="513" y="417.5" width="1.5" height="1.1" fill="#222" transform="rotate(-25 513 417.5)"/>
<rect x="517.5" y="418.5" width="1.5" height="1.1" fill="#222" transform="rotate(-25 517.5 418.5)"/>
<rect x="521.5" y="416" width="1.5" height="1.1" fill="#222" transform="rotate(-25 521.5 416)"/>
<rect x="513" y="423.5" width="1.5" height="1.1" fill="#222" transform="rotate(-25 513 423.5)"/>
<rect x="518" y="424" width="1.5" height="1.1" fill="#222" transform="rotate(-25 518 424)"/>
<rect x="521" y="422.5" width="1.5" height="1.1" fill="#222" transform="rotate(-25 521 422.5)"/>
<rect x="529" y="406" width="1.5" height="1.1" fill="#222" transform="rotate(-25 529 406)"/>
<rect x="532.5" y="408.5" width="1.5" height="1.1" fill="#222" transform="rotate(-25 532.5 408.5)"/>
<rect x="528" y="412" width="1.5" height="1.1" fill="#222" transform="rotate(-25 528 412)"/>
<rect x="533" y="414" width="1.5" height="1.1" fill="#222" transform="rotate(-25 533 414)"/>
<rect x="529.5" y="418" width="1.5" height="1.1" fill="#222" transform="rotate(-25 529.5 418)"/>
<rect x="531.5" y="421" width="1.5" height="1.1" fill="#222" transform="rotate(-25 531.5 421)"/>
<rect x="528" y="424.5" width="1.5" height="1.1" fill="#222" transform="rotate(-25 528 424.5)"/>
<rect x="533" y="425" width="1.5" height="1.1" fill="#222" transform="rotate(-25 533 425)"/>
<rect x="546" y="405.5" width="1.5" height="1.1" fill="#222" transform="rotate(-25 546 405.5)"/>
<rect x="555" y="406.5" width="1.5" height="1.1" fill="#222" transform="rotate(-25 555 406.5)"/>
<rect x="550" y="411" width="1.5" height="1.1" fill="#222" transform="rotate(-25 550 411)"/>
<rect x="557" y="413.5" width="1.5" height="1.1" fill="#222" transform="rotate(-25 557 413.5)"/>
<rect x="546" y="416" width="1.5" height="1.1" fill="#222" transform="rotate(-25 546 416)"/>
<rect x="552" y="418" width="1.5" height="1.1" fill="#222" transform="rotate(-25 552 418)"/>
<rect x="556" y="420" width="1.5" height="1.1" fill="#222" transform="rotate(-25 556 420)"/>
<rect x="548" y="423" width="1.5" height="1.1" fill="#222" transform="rotate(-25 548 423)"/>
<rect x="553" y="424.5" width="1.5" height="1.1" fill="#222" transform="rotate(-25 553 424.5)"/>
<rect x="546" y="428.5" width="1.5" height="1.1" fill="#222" transform="rotate(-25 546 428.5)"/>
<rect x="551" y="428" width="1.5" height="1.1" fill="#222" transform="rotate(-25 551 428)"/>
<rect x="518" y="438" width="1.5" height="1.1" fill="#222" transform="rotate(-25 518 438)"/>
<rect x="524" y="437" width="1.5" height="1.1" fill="#222" transform="rotate(-25 524 437)"/>
<rect x="530" y="438.5" width="1.5" height="1.1" fill="#222" transform="rotate(-25 530 438.5)"/>
<rect x="516.5" y="443.5" width="1.5" height="1.1" fill="#222" transform="rotate(-25 516.5 443.5)"/>
<rect x="522" y="442" width="1.5" height="1.1" fill="#222" transform="rotate(-25 522 442)"/>
<rect x="528" y="443" width="1.5" height="1.1" fill="#222" transform="rotate(-25 528 443)"/>
<rect x="533" y="441.5" width="1.5" height="1.1" fill="#222" transform="rotate(-25 533 441.5)"/>
<rect x="518.5" y="448" width="1.5" height="1.1" fill="#222" transform="rotate(-25 518.5 448)"/>
<rect x="524" y="447.5" width="1.5" height="1.1" fill="#222" transform="rotate(-25 524 447.5)"/>
<rect x="520" y="452" width="1.5" height="1.1" fill="#222" transform="rotate(-25 520 452)"/>
<rect x="526" y="450" width="1.5" height="1.1" fill="#222" transform="rotate(-25 526 450)"/>
<polyline points="540.1,399 540.1,470" fill="none" stroke="#222" stroke-width="1.59" />
<rect x="539" y="407" width="2.4" height="10" fill="#222"/>
<rect x="538.6" y="402.5" width="1.6" height="2" fill="#222"/><rect x="533.3" y="401.3" width="1.6" height="1.4" fill="#222"/>
<circle cx="540.1" cy="464.3" r="1.5" fill="#111"/>
<polyline points="536.5,464.3 543.7,464.3" fill="none" stroke="#111" stroke-width="1.22" />
<polyline points="519.7,455.5 519.7,467" fill="none" stroke="#222" stroke-width="1.22" />
<polyline points="536.2,434 536.2,455" fill="none" stroke="#222" stroke-width="1.1" />
</g>
<g id="grapples">
<ellipse cx="387.5" cy="106.5" rx="21" ry="22" transform="rotate(50.9 387.5 106.5)" fill="none" stroke="#595959" stroke-width="1.1"/>
<ellipse cx="387.5" cy="106.5" rx="18.3" ry="19.3" transform="rotate(50.9 387.5 106.5)" fill="none" stroke="#595959" stroke-width="1.1"/>
<polyline points="378.5,87.5 404.3,119.2" fill="none" stroke="#1a1a1a" stroke-width="1.83" />
<polyline points="370.3,94.3 396,125.8" fill="none" stroke="#1a1a1a" stroke-width="1.83" />
<polyline points="375,99.9 366.6,106.8" fill="none" stroke="#1a1a1a" stroke-width="1.46" />
<polyline points="380.6,106.9 369.1,116.3" fill="none" stroke="#1a1a1a" stroke-width="1.46" />
<polyline points="386.9,114.7 375.7,123.8" fill="none" stroke="#1a1a1a" stroke-width="1.46" />
<polyline points="385.7,96.4 396.5,87.6" fill="none" stroke="#1a1a1a" stroke-width="1.46" />
<polyline points="392,104.1 404.3,94.1" fill="none" stroke="#1a1a1a" stroke-width="1.46" />
<polyline points="397.7,111.1 408.1,102.7" fill="none" stroke="#1a1a1a" stroke-width="1.46" />
<path d="M414.3 81 C415.8 81.4 420.6 81.9 423 83.3 C425.4 84.7 427.7 87.2 429 89.5 C430.3 91.8 430.9 94.3 431 97 C431.1 99.7 430.4 102.8 429.5 105.5 C428.6 108.2 426.2 111.9 425.5 113.2" fill="none" stroke="#595959" stroke-width="1.1" />
<path d="M414.3 83.7 C415.5 84 419.5 84.4 421.6 85.6 C423.7 86.8 425.5 88.9 426.7 90.8 C427.8 92.8 428.2 94.9 428.3 97.2 C428.4 99.4 427.8 102 427.1 104.3 C426.3 106.6 424.4 109.9 423.9 111" fill="none" stroke="#595959" stroke-width="1.1" />
<polyline points="416.6,81 415.2,97 412.8,113.2" fill="none" stroke="#1a1a1a" stroke-width="2.32" />
<polyline points="416,86.2 428.4,87.6" fill="none" stroke="#1a1a1a" stroke-width="1.46" />
<polyline points="415,94.5 429.4,96.2" fill="none" stroke="#1a1a1a" stroke-width="1.46" />
<polyline points="414,102.9 426.9,104.4" fill="none" stroke="#1a1a1a" stroke-width="1.46" />
<polyline points="412,80 416.6,81" fill="none" stroke="#222" stroke-width="1.22" />
<path d="M357.6 126.4 C357.7 127.5 357.7 130.9 358.3 133 C358.9 135.1 359.8 137.4 361 139 C362.2 140.6 363.2 141.7 365.8 142.6 C368.4 143.5 374.8 143.9 376.6 144.2" fill="none" stroke="#666" stroke-width="0.98" />
<path d="M359.4 127.5 C359.5 128.3 359.6 130.8 360.1 132.5 C360.6 134.2 361.4 136.1 362.5 137.5 C363.6 138.9 364.2 140 366.6 140.8 C369 141.6 374.9 142.1 376.6 142.4" fill="none" stroke="#666" stroke-width="0.98" />
<polyline points="357.6,130.3 378,132.3 397.2,134.6" fill="none" stroke="#1a1a1a" stroke-width="2.2" />
<polyline points="357.6,126 357.6,131" fill="none" stroke="#1a1a1a" stroke-width="1.34" />
<polyline points="364.8,128.5 364.8,141" fill="none" stroke="#1a1a1a" stroke-width="1.46" />
<polyline points="376.6,129.3 376.6,144" fill="none" stroke="#1a1a1a" stroke-width="1.46" />
<polyline points="370.5,129 370.5,133" fill="none" stroke="#1a1a1a" stroke-width="1.22" />
<path d="M351.4 168.5 C351.2 167.1 349.9 162.5 350.4 160 C350.9 157.5 352.4 155.3 354.2 153.3 C356 151.3 358.5 149.4 361 148 C363.5 146.6 367.7 145.3 369 144.8" fill="none" stroke="#666" stroke-width="0.98" />
<path d="M353.3 167 C353.2 165.9 352.2 162.4 352.6 160.3 C353 158.2 354.2 156.3 355.8 154.6 C357.4 152.9 359.7 151.3 362 150 C364.3 148.7 368.2 147.3 369.5 146.8" fill="none" stroke="#666" stroke-width="0.98" />
<path d="M352 164 C353.3 163.8 357.2 163.2 360 162.6 C362.8 162 365.5 161.5 369 160.5 C372.5 159.5 377.1 158 381 156.6 C384.9 155.2 390.6 152.8 392.5 152" fill="none" stroke="#1a1a1a" stroke-width="2.2" />
<polyline points="351.6,162 352.4,167.5" fill="none" stroke="#1a1a1a" stroke-width="1.46" />
<polyline points="358.5,163 356,153" fill="none" stroke="#1a1a1a" stroke-width="1.46" />
<polyline points="367,161 364.5,148.5" fill="none" stroke="#1a1a1a" stroke-width="1.46" />
<ellipse cx="385.3" cy="181.2" rx="20.3" ry="22.6" transform="rotate(117.6 385.3 181.2)" fill="none" stroke="#595959" stroke-width="1.1"/>
<ellipse cx="385.3" cy="181.2" rx="17.6" ry="19.9" transform="rotate(117.6 385.3 181.2)" fill="none" stroke="#595959" stroke-width="1.1"/>
<polyline points="399.1,166.1 380.8,201.1" fill="none" stroke="#1a1a1a" stroke-width="1.83" />
<polyline points="389.8,161.3 371.5,196.3" fill="none" stroke="#1a1a1a" stroke-width="1.83" />
<polyline points="384.9,170.8 372.4,164.3" fill="none" stroke="#1a1a1a" stroke-width="1.46" />
<polyline points="379.8,180.6 365.4,173.1" fill="none" stroke="#1a1a1a" stroke-width="1.46" />
<polyline points="375.1,189.4 364.4,183.8" fill="none" stroke="#1a1a1a" stroke-width="1.46" />
<polyline points="392.2,179.2 406.1,186.4" fill="none" stroke="#1a1a1a" stroke-width="1.46" />
<polyline points="387.1,188.9 400.7,196" fill="none" stroke="#1a1a1a" stroke-width="1.46" />
<polyline points="383.4,196 392.6,200.8" fill="none" stroke="#1a1a1a" stroke-width="1.46" />
<path d="M409 155.5 C410.8 156.2 416.8 157.6 420 160 C423.2 162.4 426.2 166.3 428 170 C429.8 173.7 430.7 178.2 430.5 182 C430.3 185.8 428.9 189.8 427 193 C425.1 196.2 420.7 199.9 419.4 201.3" fill="none" stroke="#595959" stroke-width="1.1" />
<path d="M409.3 158.2 C410.9 158.9 416.3 160.3 419 162.5 C421.7 164.7 424.2 168.2 425.7 171.4 C427.2 174.6 427.9 178.4 427.8 181.7 C427.7 185 426.5 188.4 425 191.2 C423.4 194.1 419.6 197.5 418.5 198.7" fill="none" stroke="#595959" stroke-width="1.1" />
<polyline points="406.7,155 418.6,199.6" fill="none" stroke="#1a1a1a" stroke-width="2.32" />
<polyline points="410.3,168.4 418,166.3" fill="none" stroke="#1a1a1a" stroke-width="1.46" />
<polyline points="413.2,179.5 424.8,176.4" fill="none" stroke="#1a1a1a" stroke-width="1.46" />
<polyline points="416.2,190.7 425.9,188.1" fill="none" stroke="#1a1a1a" stroke-width="1.46" />
<polyline points="415.5,202.7 419.4,201.3" fill="none" stroke="#222" stroke-width="1.22" />
<polyline points="410.1,104.8 413.8,127.1" fill="none" stroke="#1a1a1a" stroke-width="1.62" />
<polyline points="411.9,104.6 415.6,126.9" fill="none" stroke="#1a1a1a" stroke-width="1.62" />
<polyline points="424.4,113.8 414,126.4" fill="none" stroke="#1a1a1a" stroke-width="1.62" />
<polyline points="425.8,115 415.4,127.6" fill="none" stroke="#1a1a1a" stroke-width="1.62" />
<polyline points="411,104.7 406.5,122.6" fill="none" stroke="#1a1a1a" stroke-width="1.83" />
<polyline points="420.7,113.6 411.5,125.5" fill="none" stroke="#1a1a1a" stroke-width="1.71" />
<polyline points="411,104.7 425.1,114.4" fill="none" stroke="#1a1a1a" stroke-width="1.1" />
<polyline points="381.6,130.1 403.2,139" fill="none" stroke="#1a1a1a" stroke-width="1.62" />
<polyline points="382.2,128.5 403.8,137.4" fill="none" stroke="#1a1a1a" stroke-width="1.62" />
<path d="M376.7 131.8 C378.2 131.6 382.8 130.2 386 130.3 C389.2 130.4 392.9 131.2 396 132.3 C399.1 133.4 402.9 136 404.3 136.7" fill="none" stroke="#1a1a1a" stroke-width="1.59" />
<path d="M378.2 144.2 C379.8 144.6 385.4 146.2 388 146.6 C390.6 147 391.3 148 394 146.8 C396.7 145.6 402.6 140.5 404.3 139.2" fill="none" stroke="#1a1a1a" stroke-width="2.44" />
<polyline points="378.2,144.2 388,139.5" fill="none" stroke="#1a1a1a" stroke-width="1.59" />
<polyline points="388,139.5 403.5,138.2" fill="none" stroke="#1a1a1a" stroke-width="1.83" />
<polyline points="389.4,146.4 393.1,155.4" fill="none" stroke="#1a1a1a" stroke-width="1.59" />
<polyline points="405.9,156.1 418.6,166.5" fill="none" stroke="#1a1a1a" stroke-width="1.62" />
<polyline points="407.1,154.7 419.8,165.1" fill="none" stroke="#1a1a1a" stroke-width="1.62" />
<polyline points="406.5,155.4 399.8,159.1" fill="none" stroke="#1a1a1a" stroke-width="1.95" />
<polyline points="393.1,155.4 399.8,159.1" fill="none" stroke="#1a1a1a" stroke-width="1.95" />
<polyline points="419.2,165.8 408.3,178.8" fill="none" stroke="#1a1a1a" stroke-width="2.2" />
<polyline points="406.5,155.4 408.3,178.8" fill="none" stroke="#1a1a1a" stroke-width="2.2" />
<circle cx="408.3" cy="178.8" r="2" fill="#111"/>
<polyline points="399.8,159.1 396.5,169.5" fill="none" stroke="#1a1a1a" stroke-width="1.83" />
<polyline points="406.5,155.4 411.7,144.9" fill="none" stroke="#1a1a1a" stroke-width="1.71" />
<polyline points="413.2,138.2 403.5,138.2" fill="none" stroke="#1a1a1a" stroke-width="2.32" />
<polyline points="411.7,144.9 403.5,138.2" fill="none" stroke="#1a1a1a" stroke-width="2.2" />
<polyline points="402,129.3 403.5,138.2" fill="none" stroke="#1a1a1a" stroke-width="2.07" />
<polyline points="406.5,122.6 402,129.3" fill="none" stroke="#1a1a1a" stroke-width="1.83" />
<polyline points="414.7,127 413.2,138.2" fill="none" stroke="#1a1a1a" stroke-width="1.46" />
<polyline points="404.5,120.5 423,139" fill="none" stroke="#666" stroke-width="0.98" />
<polyline points="400,126 417.5,143.5" fill="none" stroke="#666" stroke-width="0.98" />
<polyline points="408.5,117.5 425.5,134.5" fill="none" stroke="#666" stroke-width="0.98" />
<polyline points="399.5,143.5 417,124" fill="none" stroke="#666" stroke-width="0.98" />
<polyline points="403,147 421,127.5" fill="none" stroke="#666" stroke-width="0.98" />
<circle cx="411" cy="104.7" r="2" fill="#111"/>
<circle cx="425.1" cy="114.4" r="2" fill="#111"/>
<circle cx="406.5" cy="122.6" r="2" fill="#111"/>
<circle cx="414.7" cy="127" r="2" fill="#111"/>
<circle cx="402" cy="129.3" r="2" fill="#111"/>
<circle cx="381.9" cy="129.3" r="2" fill="#111"/>
<circle cx="413.2" cy="138.2" r="2" fill="#111"/>
<circle cx="403.5" cy="138.2" r="2" fill="#111"/>
<circle cx="411.7" cy="144.9" r="2" fill="#111"/>
<circle cx="378.2" cy="144.2" r="2" fill="#111"/>
<circle cx="389.4" cy="146.4" r="2" fill="#111"/>
<circle cx="393.8" cy="148.6" r="2" fill="#111"/>
<circle cx="393.1" cy="155.4" r="2" fill="#111"/>
<circle cx="406.5" cy="155.4" r="2" fill="#111"/>
<circle cx="399.8" cy="159.1" r="2" fill="#111"/>
<circle cx="374.5" cy="160.6" r="2" fill="#111"/>
<circle cx="419.2" cy="165.8" r="2" fill="#111"/>
<circle cx="403.5" cy="138.2" r="2.8" fill="#111"/>
<circle cx="408" cy="108.4" r="1.3" fill="#fff" stroke="#1a1a1a" stroke-width="0.98"/>
<circle cx="420.7" cy="113.6" r="1.3" fill="#fff" stroke="#1a1a1a" stroke-width="0.98"/>
<circle cx="384.9" cy="126.3" r="1.3" fill="#fff" stroke="#1a1a1a" stroke-width="0.98"/>
<circle cx="421.4" cy="136" r="1.3" fill="#fff" stroke="#1a1a1a" stroke-width="0.98"/>
<circle cx="414.7" cy="168" r="1.3" fill="#fff" stroke="#1a1a1a" stroke-width="0.98"/>
<circle cx="379.7" cy="162.8" r="1.3" fill="#fff" stroke="#1a1a1a" stroke-width="0.98"/>
<circle cx="418.4" cy="151.6" r="1.3" fill="#fff" stroke="#1a1a1a" stroke-width="0.98"/>
<g>
<path d="M463.5 349.4 C463.4 348.2 462.7 344.4 462.8 342 C462.9 339.6 463.1 337.6 464.3 335.1 C465.5 332.6 467.6 329.1 470.2 327 C472.8 324.9 477.2 323.2 480.2 322.6 C483.2 322 485.7 322.6 488 323.2 C490.3 323.8 492.8 325.5 493.8 326" fill="none" stroke="#595959" stroke-width="1.1" />
<path d="M465.9 348.6 C465.8 347.5 465.3 344.2 465.4 342.2 C465.5 340.1 465.6 338.5 466.7 336.3 C467.8 334.1 469.5 331 471.8 329.2 C474.1 327.4 477.9 325.9 480.5 325.3 C483.1 324.7 485.3 325.2 487.3 325.7 C489.3 326.1 491.5 327.6 492.4 328" fill="none" stroke="#595959" stroke-width="1.1" />
<polyline points="490.4,324.2 479.4,348.5" fill="none" stroke="#1a1a1a" stroke-width="2.32" />
<polyline points="487.1,331.5 474.8,325.9" fill="none" stroke="#1a1a1a" stroke-width="1.46" />
<polyline points="482.5,341.7 468.4,335.3" fill="none" stroke="#1a1a1a" stroke-width="1.46" />
<polyline points="486.5,322 494.2,326" fill="none" stroke="#1a1a1a" stroke-width="1.46" />
</g>
<ellipse cx="500.2" cy="362.8" rx="18.6" ry="22.6" transform="rotate(-13.5 500.2 362.8)" fill="none" stroke="#595959" stroke-width="1.1"/>
<ellipse cx="500.2" cy="362.8" rx="15.9" ry="19.9" transform="rotate(-13.5 500.2 362.8)" fill="none" stroke="#595959" stroke-width="1.1"/>
<polyline points="481.4,361.6 516.4,353.1" fill="none" stroke="#1a1a1a" stroke-width="1.83" />
<polyline points="484.1,372.6 519,364.2" fill="none" stroke="#1a1a1a" stroke-width="1.83" />
<polyline points="490.9,371 493.5,382.2" fill="none" stroke="#1a1a1a" stroke-width="1.46" />
<polyline points="501.6,368.4 505.2,383.7" fill="none" stroke="#1a1a1a" stroke-width="1.46" />
<polyline points="512.3,365.9 514.9,377.1" fill="none" stroke="#1a1a1a" stroke-width="1.46" />
<polyline points="493.1,358.8 489.6,344.4" fill="none" stroke="#1a1a1a" stroke-width="1.46" />
<polyline points="504.7,356 501.3,341.6" fill="none" stroke="#1a1a1a" stroke-width="1.46" />
<path d="M478.9 389.6 C479.2 390.7 479.6 394.1 480.5 396 C481.4 397.9 482.9 399.6 484.5 401 C486.1 402.4 488 403.5 490 404.3 C492 405.1 494.3 405.6 496.5 405.6 C498.7 405.6 501.1 405 503 404.2 C504.9 403.4 506.6 402.2 508 401 C509.4 399.8 510.8 397.7 511.4 397" fill="none" stroke="#595959" stroke-width="1.1" />
<path d="M481.3 389.3 C481.6 390.2 482 393.4 482.8 395 C483.6 396.6 484.9 397.9 486.2 399 C487.5 400.1 489.1 401.2 490.8 401.8 C492.5 402.4 494.6 402.9 496.5 402.9 C498.4 402.9 500.4 402.3 502 401.7 C503.6 401.1 504.9 400.1 506 399.2 C507.1 398.3 508.3 396.8 508.8 396.3" fill="none" stroke="#595959" stroke-width="1.1" />
<polyline points="467,376.5 510.3,399.3" fill="none" stroke="#1a1a1a" stroke-width="2.2" />
<polyline points="490.8,389 484.5,401" fill="none" stroke="#1a1a1a" stroke-width="1.46" />
<polyline points="503.4,395.7 497.8,406.3" fill="none" stroke="#1a1a1a" stroke-width="1.46" />
<polyline points="508.5,401 512,396" fill="none" stroke="#1a1a1a" stroke-width="1.46" />
<polygon points="462,346.5 471.5,365 464,364.5" fill="none" stroke="#1a1a1a" stroke-width="2.32"/>
<circle cx="462" cy="346.5" r="2" fill="#111"/>
<circle cx="471.5" cy="365" r="2" fill="#111"/>
<circle cx="464" cy="364.5" r="2" fill="#111"/>
<polyline points="462,346.5 479.5,348.5" fill="none" stroke="#666" stroke-width="1.1" />
<polyline points="471.5,365 481,351" fill="none" stroke="#1a1a1a" stroke-width="2.32" />
<polygon points="467.4,377 474.9,393 489.7,383.9" fill="none" stroke="#1a1a1a" stroke-width="2.32"/>
<circle cx="467.4" cy="377" r="2" fill="#111"/>
<circle cx="474.9" cy="393" r="2" fill="#111"/>
<circle cx="489.7" cy="383.9" r="2" fill="#111"/>
<polyline points="467.4,377 473.7,372.4 479,371" fill="none" stroke="#1a1a1a" stroke-width="2.2" />
<circle cx="471.5" cy="365" r="1.8" fill="#111"/>
<circle cx="473" cy="372.5" r="1.8" fill="#111"/>
<circle cx="480.3" cy="349.5" r="1.8" fill="#111"/>
<circle cx="481.5" cy="359" r="1.8" fill="#111"/>
<circle cx="487.5" cy="383" r="1.8" fill="#111"/>
<polyline points="457,368 472,377" fill="none" stroke="#666" stroke-width="0.98" />
<polyline points="459,364 474,373" fill="none" stroke="#666" stroke-width="0.98" />
<polyline points="456.5,380 465,365.5" fill="none" stroke="#666" stroke-width="0.98" />
<polyline points="461.5,382.5 469.5,368.5" fill="none" stroke="#666" stroke-width="0.98" />
<path d="M150 431.8 A17.1 17.1 0 0 1 181.9 433.4" fill="none" stroke="#666" stroke-width="0.98" />
<path d="M151.8 431.4 A15.3 15.3 0 0 1 180.2 432.8" fill="none" stroke="#666" stroke-width="0.98" />
<polyline points="150,430.9 181.9,446" fill="none" stroke="#1a1a1a" stroke-width="2.32" />
<polyline points="156.4,433.9 160.4,425.3" fill="none" stroke="#1a1a1a" stroke-width="1.46" />
<polyline points="165.3,438.1 170.4,427.3" fill="none" stroke="#1a1a1a" stroke-width="1.46" />
<polyline points="174.2,442.4 178.1,434.2" fill="none" stroke="#1a1a1a" stroke-width="1.46" />
<polyline points="149,433.5 151.2,428.8" fill="none" stroke="#1a1a1a" stroke-width="1.46" />
<ellipse cx="162.8" cy="466.8" rx="19.2" ry="22.2" transform="rotate(-18.8 162.8 466.8)" fill="none" stroke="#595959" stroke-width="1.1"/>
<ellipse cx="162.8" cy="466.8" rx="16.5" ry="19.5" transform="rotate(-18.8 162.8 466.8)" fill="none" stroke="#595959" stroke-width="1.1"/>
<polyline points="143.4,467.5 178.6,455.5" fill="none" stroke="#1a1a1a" stroke-width="1.83" />
<polyline points="147.1,478.3 182.2,466.3" fill="none" stroke="#1a1a1a" stroke-width="1.83" />
<polyline points="154.3,475.8 158,486.7" fill="none" stroke="#1a1a1a" stroke-width="1.46" />
<polyline points="163.7,472.6 168.6,487.1" fill="none" stroke="#1a1a1a" stroke-width="1.46" />
<polyline points="173.2,469.4 177.3,481.5" fill="none" stroke="#1a1a1a" stroke-width="1.46" />
<polyline points="153.4,464.1 149,451.2" fill="none" stroke="#1a1a1a" stroke-width="1.46" />
<polyline points="163.8,460.5 158.9,446.1" fill="none" stroke="#1a1a1a" stroke-width="1.46" />
<polyline points="172.4,457.6 168.9,447.3" fill="none" stroke="#1a1a1a" stroke-width="1.46" />
<path d="M182 479.5 C183.7 479.8 189.1 480.2 192 481.5 C194.9 482.8 198 484.9 199.5 487 C201 489.1 201.4 491.8 200.8 494 C200.2 496.2 198.5 498.8 196 500.5 C193.5 502.2 189.8 503.7 186 504 C182.2 504.3 175.2 502.6 173 502.3" fill="none" stroke="#666" stroke-width="0.98" />
<path d="M183 481.3 C184.4 481.6 189 482.1 191.5 483.2 C194 484.3 196.6 486.1 197.8 487.8 C199.1 489.6 199.5 491.8 199 493.7 C198.5 495.6 197.2 497.6 195 499 C192.8 500.4 189.5 501.9 186 502.2 C182.5 502.4 176 500.8 174 500.5" fill="none" stroke="#666" stroke-width="0.98" />
<polyline points="185.2,480.3 176,502.1" fill="none" stroke="#1a1a1a" stroke-width="2.32" />
<polyline points="182.4,486.8 193.5,491.5" fill="none" stroke="#1a1a1a" stroke-width="1.46" />
<polyline points="179.7,493.4 192.6,498.8" fill="none" stroke="#1a1a1a" stroke-width="1.46" />
<polyline points="177.1,499.5 186.3,503.4" fill="none" stroke="#1a1a1a" stroke-width="1.46" />
<polyline points="172.5,500.5 178,503.5" fill="none" stroke="#1a1a1a" stroke-width="1.46" />
<polygon points="185,433.5 195.3,450 171,444" fill="none" stroke="#1a1a1a" stroke-width="2.32"/>
<circle cx="185" cy="433.5" r="2" fill="#111"/>
<circle cx="195.3" cy="450" r="2" fill="#111"/>
<circle cx="171" cy="444" r="2" fill="#111"/>
<polyline points="183.5,436 194,447" fill="none" stroke="#1a1a1a" stroke-width="2.32" />
<polygon points="199,460.5 202.5,479 183.5,478.5" fill="none" stroke="#1a1a1a" stroke-width="2.32"/>
<circle cx="199" cy="460.5" r="2" fill="#111"/>
<circle cx="202.5" cy="479" r="2" fill="#111"/>
<circle cx="183.5" cy="478.5" r="2" fill="#111"/>
<polyline points="198,462 186,477" fill="none" stroke="#1a1a1a" stroke-width="2.32" />
<circle cx="189" cy="453.5" r="1.8" fill="#111"/>
<circle cx="190.5" cy="459.5" r="1.8" fill="#111"/>
<circle cx="182" cy="452" r="1.8" fill="#111"/>
<circle cx="174.5" cy="447.5" r="1.8" fill="#111"/>
<polyline points="171,444 189,453.5" fill="none" stroke="#1a1a1a" stroke-width="1.59" />
<polyline points="190.5,459.5 199,460.5" fill="none" stroke="#1a1a1a" stroke-width="1.59" />
<path d="M196 449 C196.8 450 199.8 452.8 200.5 455 C201.2 457.2 200.1 460.8 200 462" fill="none" stroke="#666" stroke-width="0.98" />
<path d="M198.5 447.5 C199.2 448.6 202.3 451.4 203 454 C203.7 456.6 202.6 461.5 202.5 463" fill="none" stroke="#666" stroke-width="0.98" />
<path d="M213.5 437.5 C214.3 438.6 217.7 441.5 218.5 444 C219.3 446.5 218.3 451.1 218.3 452.5" fill="none" stroke="#222" stroke-width="1.1" />
<path d="M216 436.5 C216.8 437.7 220.2 441 221 443.5 C221.8 446 220.8 450.2 220.8 451.5" fill="none" stroke="#666" stroke-width="0.98" />
<polyline points="197,448 214,437.5" fill="none" stroke="#666" stroke-width="0.98" />
<polyline points="200.5,463 211,458" fill="none" stroke="#666" stroke-width="0.98" />
<polyline points="203.5,444.5 206.5,449.5" fill="none" stroke="#666" stroke-width="0.98" />
<polyline points="207,442.5 210,447.5" fill="none" stroke="#666" stroke-width="0.98" />
<circle cx="204.5" cy="447.5" r="1.5" fill="#111"/>
<circle cx="214.5" cy="437.5" r="1.8" fill="#111"/>
<circle cx="208.5" cy="445" r="1.3" fill="#111"/>
</g>
<g id="dims">
<polyline points="146.8,35.8 540.1,35.8" fill="none" stroke="#2e2e2e" stroke-width="1.32" />
<polyline points="146.8,35.3 146.8,440" fill="none" stroke="#2e2e2e" stroke-width="1.32" />
<polyline points="540.1,35.3 540.1,470" fill="none" stroke="#2e2e2e" stroke-width="1.32" />
<polyline points="96.4,80 412,80" fill="none" stroke="#2e2e2e" stroke-width="1.32" />
<polyline points="96.4,79.5 96.4,512" fill="none" stroke="#2e2e2e" stroke-width="1.32" />
<polyline points="127.7,202.7 415.5,202.7" fill="none" stroke="#2e2e2e" stroke-width="1.32" />
<polyline points="127.7,202.2 127.7,512" fill="none" stroke="#2e2e2e" stroke-width="1.32" />
<polyline points="95.9,511.6 497,511.6" fill="none" stroke="#2e2e2e" stroke-width="1.32" />
<polyline points="445.2,136.4 626,136.4" fill="none" stroke="#2e2e2e" stroke-width="1.32" />
<polyline points="445.2,135.9 445.2,370" fill="none" stroke="#2e2e2e" stroke-width="1.32" />
<polyline points="626,135.9 626,440" fill="none" stroke="#2e2e2e" stroke-width="1.32" />
<polygon points="147.2,35.8 151.8,34.5 151.8,37" fill="#111"/>
<polygon points="539.5,35.8 534.9,34.5 534.9,37" fill="#111"/>
<polygon points="96.4,80.6 95.2,85.2 97.7,85.2" fill="#111"/>
<polygon points="96.4,511 95.2,506.4 97.7,506.4" fill="#111"/>
<polygon points="127.7,203.3 126.5,207.9 128.9,207.9" fill="#111"/>
<polygon points="127.7,511 126.5,506.4 128.9,506.4" fill="#111"/>
<polygon points="445.8,136.4 450.4,135.2 450.4,137.7" fill="#111"/>
<polygon points="539.5,136.4 534.9,135.2 534.9,137.7" fill="#111"/>
<polygon points="540.7,136.4 545.3,135.2 545.3,137.7" fill="#111"/>
<polygon points="625.4,136.4 620.8,135.2 620.8,137.7" fill="#111"/>
<path d="M152 511.3 C151.5 506.1 149.8 489.9 149 480 C148.2 470.1 147.7 460.7 147.4 452 C147.1 443.3 146.8 435.9 147 428 C147.2 420.1 147.2 414.7 148.4 404.5 C149.6 394.3 151.2 379.4 154 367 C156.8 354.6 160 344.5 165.1 330 C170.2 315.5 178.7 293.8 184.7 280 C190.7 266.2 195.1 257.3 201 247 C206.9 236.7 214.7 225.7 220 218.1 C225.3 210.5 228.7 206.6 233 201.2 C237.3 195.8 239.6 192.7 246.1 185.5 C252.6 178.3 263.4 166.4 272.1 158.2 C280.8 149.9 289.5 142.7 298.2 136 C306.9 129.3 315.5 123.2 324.2 117.8 C332.9 112.4 341.6 107.8 350.3 103.5 C359 99.2 372 93.7 376.4 91.7" fill="none" stroke="#2e2e2e" stroke-width="1.32" />
</g>
</g>
<text transform="translate(331.6,35.7) scale(0.79,1)" x="-1.3 4.6 10.8 16.7 24.1" y="0" font-size="13.4" fill="#1c1c1c">10103</text>
<text transform="translate(480.2,135.6) scale(0.84,1)" x="0 7.5 14.9 22.4" y="0" font-size="13.4" fill="#1c1c1c">2445</text>
<text transform="translate(573,135.6) scale(0.84,1)" x="0 6.2 12.1 18.2" y="0" font-size="13.4" fill="#1c1c1c">2191</text>
<text transform="translate(95.2,307.7) rotate(-90) scale(0.84,1)" x="-1.2 3.2 9 16.2 23.4" y="0" font-size="13" fill="#1c1c1c">11093</text>
<text transform="translate(126.8,368.5) rotate(-90) scale(0.84,1)" x="0 7.2 14.5 21.7" y="0" font-size="13" fill="#1c1c1c">7945</text>
</svg>
</body></html>
